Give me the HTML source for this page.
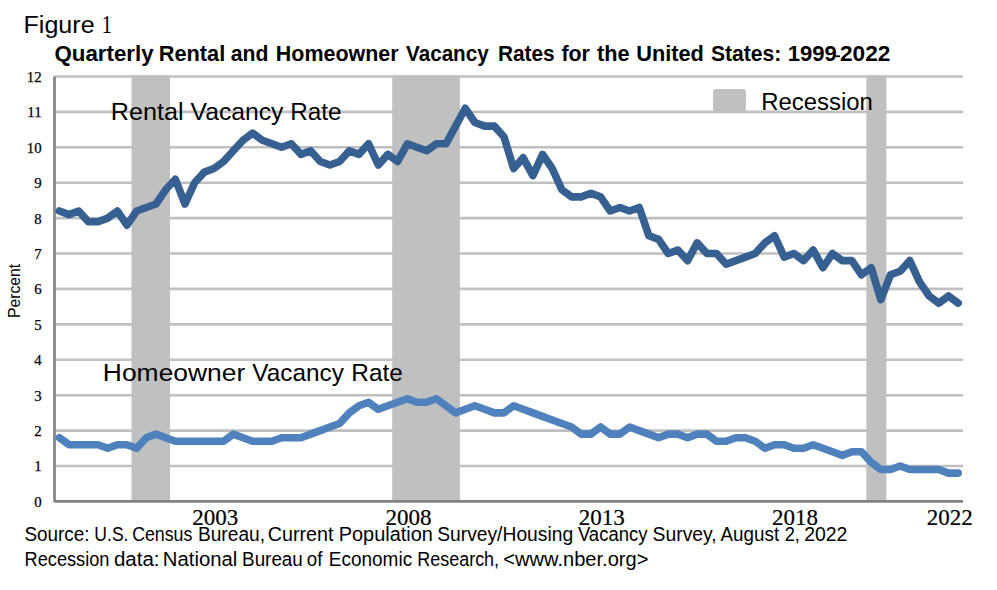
<!DOCTYPE html>
<html lang="en">
<head>
<meta charset="utf-8">
<title>Figure 1 - Quarterly Rental and Homeowner Vacancy Rates</title>
<style>
html,body{margin:0;padding:0;background:#fff;}
body{width:997px;height:590px;overflow:hidden;font-family:"Liberation Sans",sans-serif;}
svg{display:block;}
.sans{font-family:"Liberation Sans",sans-serif;fill:#000;}
.serif{font-family:"Liberation Serif",serif;fill:#000;}
</style>
</head>
<body>
<svg width="997" height="590" viewBox="0 0 997 590">
<rect x="0" y="0" width="997" height="590" fill="#ffffff"/>
<g>
<rect x="131.5" y="75.3" width="38.5" height="426.1" fill="#c0c0c0"/>
<rect x="392.2" y="75.3" width="67.7" height="426.1" fill="#c0c0c0"/>
<rect x="866.3" y="75.3" width="20.1" height="426.1" fill="#c0c0c0"/>
</g>
<g stroke="#c0c0c0" stroke-width="2.6" fill="none">
<line x1="54.5" y1="466.0" x2="963.0" y2="466.0"/>
<line x1="54.5" y1="430.6" x2="963.0" y2="430.6"/>
<line x1="54.5" y1="395.2" x2="963.0" y2="395.2"/>
<line x1="54.5" y1="359.8" x2="963.0" y2="359.8"/>
<line x1="54.5" y1="324.4" x2="963.0" y2="324.4"/>
<line x1="54.5" y1="288.9" x2="963.0" y2="288.9"/>
<line x1="54.5" y1="253.5" x2="963.0" y2="253.5"/>
<line x1="54.5" y1="218.1" x2="963.0" y2="218.1"/>
<line x1="54.5" y1="182.7" x2="963.0" y2="182.7"/>
<line x1="54.5" y1="147.3" x2="963.0" y2="147.3"/>
<line x1="54.5" y1="111.9" x2="963.0" y2="111.9"/>
<line x1="54.5" y1="76.5" x2="963.0" y2="76.5"/>
</g>
<rect x="713" y="89" width="32.9" height="22.8" rx="3.2" ry="3.2" fill="#c0c0c0"/>
<polyline points="54.5,76.6 54.5,501.4 963.0,501.4" stroke="#838383" stroke-width="2.7" stroke-linejoin="bevel" fill="none"/>
<polygon points="53.1,76.8 54.3,75.2 56.5,75.2 56.5,76.8" fill="#c0c0c0"/>
<polyline points="59.3,437.7 69.0,444.7 78.7,444.7 88.3,444.7 98.0,444.7 107.7,448.3 117.3,444.7 127.0,444.7 136.7,448.3 146.3,437.7 156.0,434.1 165.6,437.7 175.3,441.2 185.0,441.2 194.6,441.2 204.3,441.2 214.0,441.2 223.6,441.2 233.3,434.1 243.0,437.7 252.6,441.2 262.3,441.2 272.0,441.2 281.6,437.7 291.3,437.7 301.0,437.7 310.6,434.1 320.3,430.6 329.9,427.0 339.6,423.5 349.3,412.9 358.9,405.8 368.6,402.3 378.3,409.3 387.9,405.8 397.6,402.3 407.3,398.7 416.9,402.3 426.6,402.3 436.3,398.7 445.9,405.8 455.6,412.9 465.3,409.3 474.9,405.8 484.6,409.3 494.3,412.9 503.9,412.9 513.6,405.8 523.2,409.3 532.9,412.9 542.6,416.4 552.2,420.0 561.9,423.5 571.6,427.0 581.2,434.1 590.9,434.1 600.6,427.0 610.2,434.1 619.9,434.1 629.6,427.0 639.2,430.6 648.9,434.1 658.6,437.7 668.2,434.1 677.9,434.1 687.6,437.7 697.2,434.1 706.9,434.1 716.5,441.2 726.2,441.2 735.9,437.7 745.5,437.7 755.2,441.2 764.9,448.3 774.5,444.7 784.2,444.7 793.9,448.3 803.5,448.3 813.2,444.7 822.9,448.3 832.5,451.8 842.2,455.4 851.9,451.8 861.5,451.8 871.2,462.4 880.8,469.5 890.5,469.5 900.2,466.0 909.8,469.5 919.5,469.5 929.2,469.5 938.8,469.5 948.5,473.1 958.2,473.1" fill="none" stroke="#4f81bd" stroke-width="7.6" stroke-linejoin="round" stroke-linecap="round"/>
<polyline points="59.3,211.0 69.0,214.6 78.7,211.0 88.3,221.7 98.0,221.7 107.7,218.1 117.3,211.0 127.0,225.2 136.7,211.0 146.3,207.5 156.0,204.0 165.6,189.8 175.3,179.2 185.0,204.0 194.6,182.7 204.3,172.1 214.0,168.5 223.6,161.5 233.3,150.8 243.0,140.2 252.6,133.1 262.3,140.2 272.0,143.8 281.6,147.3 291.3,143.8 301.0,154.4 310.6,150.8 320.3,161.5 329.9,165.0 339.6,161.5 349.3,150.8 358.9,154.4 368.6,143.8 378.3,165.0 387.9,154.4 397.6,161.5 407.3,143.8 416.9,147.3 426.6,150.8 436.3,143.8 445.9,143.8 455.6,126.1 465.3,108.3 474.9,122.5 484.6,126.1 494.3,126.1 503.9,136.7 513.6,168.5 523.2,157.9 532.9,175.6 542.6,154.4 552.2,168.5 561.9,189.8 571.6,196.9 581.2,196.9 590.9,193.3 600.6,196.9 610.2,211.0 619.9,207.5 629.6,211.0 639.2,207.5 648.9,235.8 658.6,239.4 668.2,253.5 677.9,250.0 687.6,260.6 697.2,242.9 706.9,253.5 716.5,253.5 726.2,264.2 735.9,260.6 745.5,257.1 755.2,253.5 764.9,242.9 774.5,235.8 784.2,257.1 793.9,253.5 803.5,260.6 813.2,250.0 822.9,267.7 832.5,253.5 842.2,260.6 851.9,260.6 861.5,274.8 871.2,267.7 880.8,299.6 890.5,274.8 900.2,271.2 909.8,260.6 919.5,281.9 929.2,296.0 938.8,303.1 948.5,296.0 958.2,303.1" fill="none" stroke="#376092" stroke-width="7.6" stroke-linejoin="round" stroke-linecap="round"/>
<g class="serif" font-size="14.8" text-anchor="end" stroke="#000" stroke-width="0.25">
<text x="41.6" y="506.8">0</text>
<text x="41.6" y="471.4">1</text>
<text x="41.6" y="436.0">2</text>
<text x="41.6" y="400.6">3</text>
<text x="41.6" y="365.2">4</text>
<text x="41.6" y="329.8">5</text>
<text x="41.6" y="294.3">6</text>
<text x="41.6" y="258.9">7</text>
<text x="41.6" y="223.5">8</text>
<text x="41.6" y="188.1">9</text>
<text x="41.6" y="152.7">10</text>
<text x="41.6" y="117.3">11</text>
<text x="41.6" y="81.9">12</text>
</g>
<g class="serif" font-size="23" text-anchor="middle" stroke="#000" stroke-width="0.2">
<text x="215.2" y="524.7">2003</text>
<text x="408.5" y="524.7">2008</text>
<text x="601.8" y="524.7">2013</text>
<text x="795.1" y="524.7">2018</text>
<text x="949.7" y="524.7">2022</text>
</g>
<text class="sans" font-size="15.7" transform="translate(20.4 318.0) rotate(-90)" textLength="54.2" lengthAdjust="spacingAndGlyphs">Percent</text>
<g class="sans" font-size="24.6">
<text x="23.55" y="33.0" textLength="71.07" lengthAdjust="spacingAndGlyphs">Figure</text>
</g>
<g class="serif" font-size="24.8">
<text x="101.65" y="33.0" textLength="10.19" lengthAdjust="spacingAndGlyphs">1</text>
</g>
<g class="sans" font-size="22" font-weight="bold">
<text x="54.56" y="60.8" textLength="99.05" lengthAdjust="spacingAndGlyphs">Quarterly</text>
<text x="158.72" y="60.8" textLength="66.56" lengthAdjust="spacingAndGlyphs">Rental</text>
<text x="230.80" y="60.8" textLength="37.69" lengthAdjust="spacingAndGlyphs">and</text>
<text x="275.81" y="60.8" textLength="122.80" lengthAdjust="spacingAndGlyphs">Homeowner</text>
<text x="406.04" y="60.8" textLength="82.66" lengthAdjust="spacingAndGlyphs">Vacancy</text>
<text x="497.96" y="60.8" textLength="56.71" lengthAdjust="spacingAndGlyphs">Rates</text>
<text x="561.42" y="60.8" textLength="28.46" lengthAdjust="spacingAndGlyphs">for</text>
<text x="597.04" y="60.8" textLength="32.56" lengthAdjust="spacingAndGlyphs">the</text>
<text x="636.29" y="60.8" textLength="67.62" lengthAdjust="spacingAndGlyphs">United</text>
<text x="710.92" y="60.8" textLength="70.39" lengthAdjust="spacingAndGlyphs">States:</text>
<text x="787.72" y="60.8" textLength="49.08" lengthAdjust="spacingAndGlyphs">1999</text>
<text x="839.97" y="60.8" textLength="50.33" lengthAdjust="spacingAndGlyphs">2022</text>
</g>
<g class="sans" font-size="24.6">
<text x="110.87" y="119.8" textLength="72.83" lengthAdjust="spacingAndGlyphs">Rental</text>
<text x="190.54" y="119.8" textLength="92.93" lengthAdjust="spacingAndGlyphs">Vacancy</text>
<text x="290.29" y="119.8" textLength="51.33" lengthAdjust="spacingAndGlyphs">Rate</text>
</g>
<g class="sans" font-size="24.6">
<text x="102.83" y="381.2" textLength="142.48" lengthAdjust="spacingAndGlyphs">Homeowner</text>
<text x="252.29" y="381.2" textLength="91.53" lengthAdjust="spacingAndGlyphs">Vacancy</text>
<text x="351.34" y="381.2" textLength="51.47" lengthAdjust="spacingAndGlyphs">Rate</text>
</g>
<g class="sans" font-size="24.6">
<text x="761.16" y="109.8" textLength="111.69" lengthAdjust="spacingAndGlyphs">Recession</text>
</g>
<g class="sans" font-size="20">
<text x="24.42" y="541.1" textLength="65.22" lengthAdjust="spacingAndGlyphs">Source:</text>
<text x="94.35" y="541.1" textLength="34.16" lengthAdjust="spacingAndGlyphs">U.S.</text>
<text x="132.15" y="541.1" textLength="60.24" lengthAdjust="spacingAndGlyphs">Census</text>
<text x="197.96" y="541.1" textLength="67.07" lengthAdjust="spacingAndGlyphs">Bureau,</text>
<text x="267.82" y="541.1" textLength="65.63" lengthAdjust="spacingAndGlyphs">Current</text>
<text x="338.72" y="541.1" textLength="94.13" lengthAdjust="spacingAndGlyphs">Population</text>
<text x="437.17" y="541.1" textLength="135.99" lengthAdjust="spacingAndGlyphs">Survey/Housing</text>
<text x="577.88" y="541.1" textLength="69.59" lengthAdjust="spacingAndGlyphs">Vacancy</text>
<text x="652.60" y="541.1" textLength="64.03" lengthAdjust="spacingAndGlyphs">Survey,</text>
<text x="720.57" y="541.1" textLength="58.55" lengthAdjust="spacingAndGlyphs">August</text>
<text x="784.65" y="541.1" textLength="15.21" lengthAdjust="spacingAndGlyphs">2,</text>
<text x="804.16" y="541.1" textLength="43.23" lengthAdjust="spacingAndGlyphs">2022</text>
</g>
<g class="sans" font-size="20">
<text x="24.53" y="566.0" textLength="84.97" lengthAdjust="spacingAndGlyphs">Recession</text>
<text x="113.93" y="566.0" textLength="45.60" lengthAdjust="spacingAndGlyphs">data:</text>
<text x="162.86" y="566.0" textLength="74.43" lengthAdjust="spacingAndGlyphs">National</text>
<text x="242.07" y="566.0" textLength="60.75" lengthAdjust="spacingAndGlyphs">Bureau</text>
<text x="306.87" y="566.0" textLength="15.57" lengthAdjust="spacingAndGlyphs">of</text>
<text x="328.77" y="566.0" textLength="83.37" lengthAdjust="spacingAndGlyphs">Economic</text>
<text x="417.31" y="566.0" textLength="81.78" lengthAdjust="spacingAndGlyphs">Research,</text>
<text x="503.35" y="566.0" textLength="145.05" lengthAdjust="spacingAndGlyphs">&lt;www.nber.org&gt;</text>
</g>
<rect x="835.6" y="55.4" width="4.4" height="1.7" fill="#000"/>
</svg>
</body>
</html>
